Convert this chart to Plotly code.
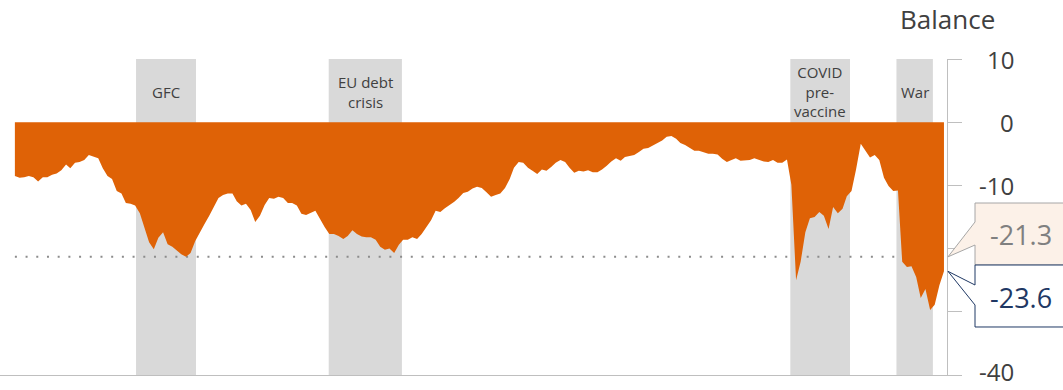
import pandas as pd
import plotly.graph_objects as go

# Monthly balance series (first month: March 2006)
start_month = "2006-03-01"
balance = [
    -8.5, -8.8, -8.7, -8.5, -8.7, -9.4, -8.7, -8.7, -8.3, -8.1,
    -7.6, -6.7, -7.3, -6.4, -6.3, -6.0, -5.2, -5.5, -5.7, -7.3,
    -8.5, -9.0, -10.9, -11.3, -12.8, -12.9, -13.2, -14.4, -16.6, -19.0,
    -20.1, -18.3, -17.4, -19.3, -19.7, -20.4, -20.9, -21.3, -20.7, -18.8,
    -17.4, -16.1, -14.8, -13.4, -12.0, -11.5, -11.3, -11.3, -12.5, -13.2,
    -12.9, -13.9, -15.8, -14.8, -13.1, -12.0, -12.1, -11.8, -12.0, -12.8,
    -12.8, -13.2, -14.5, -14.7, -14.4, -14.0, -15.3, -16.6, -17.7, -17.7,
    -18.0, -18.5, -18.0, -17.1, -17.7, -18.1, -18.2, -18.2, -18.6, -19.7,
    -20.2, -20.0, -20.7, -19.4, -18.6, -18.6, -18.2, -18.5, -17.7, -16.6,
    -15.5, -14.0, -14.2, -13.6, -13.1, -12.6, -12.0, -11.2, -11.0, -10.5,
    -10.2, -10.4, -11.1, -11.8, -11.5, -11.3, -10.4, -9.0, -7.2, -6.3,
    -6.4, -7.2, -7.7, -8.2, -7.5, -7.7, -7.1, -6.4, -6.0, -6.3,
    -7.2, -8.0, -7.7, -7.8, -7.6, -7.9, -7.9, -7.5, -6.9, -6.2,
    -5.7, -6.1, -5.5, -5.4, -5.2, -4.7, -4.2, -4.1, -3.7, -3.3,
    -2.9, -2.3, -2.2, -2.6, -3.3, -3.6, -4.0, -4.5, -4.5, -4.7,
    -5.0, -5.0, -5.1, -5.8, -6.3, -6.0, -5.7, -6.1, -6.1, -6.0,
    -5.7, -6.0, -6.2, -6.3, -6.0, -6.4, -6.4, -5.9, -9.9, -25.0,
    -22.1, -17.4, -15.2, -15.0, -14.2, -14.8, -16.9, -13.4, -14.4, -13.7,
    -11.7, -10.9, -7.5, -3.4, -4.4, -5.6, -5.2, -6.0, -8.8, -10.1,
    -10.9, -10.8, -22.1, -22.9, -22.8, -24.5, -27.8, -26.4, -29.7, -28.9,
    -25.8, -23.6,
]
dates = pd.date_range(start_month, periods=len(balance), freq="MS")

# Shaded episodes
event_names = ["GFC", "EU debt<br>crisis", "COVID<br>pre-<br>vaccine", "War"]
event_starts = ["2008-05-07", "2011-10-28", "2020-02-23", "2022-01-22"]
event_ends = ["2009-06-06", "2013-02-21", "2021-03-22", "2022-09-19"]

# Reference level (GFC low) and latest reading
gfc_low = -21.3
latest = balance[-1]

# Axis settings
y_min, y_max = -40, 10
y_ticks = [10, 0, -10, -20, -30, -40]
y_tick_labels = ["10", "0", "-10", "", "", "-40"]

ORANGE = "#DF6206"
SHADE = "#D9D9D9"
AXIS_GREY = "#BFBFBF"
TEXT = "#404040"
NAVY = "#1F3864"
FONT = "Open Sans"

W, H = 1063, 390
M_L, M_R, M_T, M_B = 0, 116, 59, 15
PW = W - M_L - M_R
PH = H - M_T - M_B


def px_x(px):
    """Pixel column -> paper x."""
    return (px - M_L) / PW


def px_y(py):
    """Pixel row -> paper y."""
    return (H - M_B - py) / PH


def val_y(v):
    """Data value -> paper y."""
    return (v - y_min) / (y_max - y_min)


fig = go.Figure()

# Dotted reference line at the GFC low
fig.add_trace(go.Scatter(
    x=[dates[0], dates[-1]], y=[gfc_low, gfc_low], mode="lines",
    line=dict(color="#8C8C8C", width=2, dash="2px,8.7px"),
    hoverinfo="skip", showlegend=False,
))

# Balance as a filled area down from zero
fig.add_trace(go.Scatter(
    x=dates, y=balance, mode="lines", fill="tozeroy",
    line=dict(width=0, color=ORANGE), fillcolor=ORANGE,
    showlegend=False,
))

shapes = []
annotations = []

for name, s, e in zip(event_names, event_starts, event_ends):
    shapes.append(dict(
        type="rect", xref="x", yref="y", x0=s, x1=e, y0=y_min, y1=y_max,
        fillcolor=SHADE, line=dict(width=0), layer="below",
    ))
    mid = pd.Timestamp(s) + (pd.Timestamp(e) - pd.Timestamp(s)) / 2
    annotations.append(dict(
        x=mid, y=4.8, xref="x", yref="y", text=name, showarrow=False,
        xanchor="center", yanchor="middle",
        font=dict(family=FONT, size=15, color=TEXT),
    ))

# Right-aligned tick labels (the bottom one nudged up to stay inside)
for v, lab in zip(y_ticks, y_tick_labels):
    if lab:
        y_pos = px_y(371) if v == y_min else val_y(v)
        annotations.append(dict(
            x=px_x(1016), y=y_pos, xref="paper", yref="paper", text=lab,
            showarrow=False, xanchor="right", yanchor="middle",
            font=dict(family=FONT, size=24, color=TEXT),
        ))

annotations.append(dict(
    x=px_x(947), y=px_y(19), xref="paper", yref="paper", text="Balance",
    showarrow=False, xanchor="center", yanchor="middle",
    font=dict(family=FONT, size=26, color=TEXT),
))


def callout_path(top, bottom, attach_hi, attach_lo, tip_value):
    left, right, tip_x = 975, 1080, 948
    pts = [
        (px_x(left), px_y(top)), (px_x(right), px_y(top)),
        (px_x(right), px_y(bottom)), (px_x(left), px_y(bottom)),
        (px_x(left), px_y(attach_lo)), (px_x(tip_x), val_y(tip_value)),
        (px_x(left), px_y(attach_hi)),
    ]
    return "M " + " L ".join(f"{x:.5f},{y:.5f}" for x, y in pts) + " Z"


# Callout for the GFC low
shapes.append(dict(
    type="path", xref="paper", yref="paper",
    path=callout_path(203, 265, 222, 245, gfc_low),
    fillcolor="#FCF1E8", line=dict(color="#A6A6A6", width=1), layer="above",
))
# Callout for the latest reading
shapes.append(dict(
    type="path", xref="paper", yref="paper",
    path=callout_path(265, 327, 285, 305, latest),
    fillcolor="#FFFFFF", line=dict(color=NAVY, width=1), layer="above",
))
annotations.append(dict(
    x=px_x(1021), y=px_y(234), xref="paper", yref="paper",
    text=f"{gfc_low:.1f}", showarrow=False, xanchor="center", yanchor="middle",
    font=dict(family=FONT, size=27, color="#808080"),
))
annotations.append(dict(
    x=px_x(1021), y=px_y(297), xref="paper", yref="paper",
    text=f"{latest:.1f}", showarrow=False, xanchor="center", yanchor="middle",
    font=dict(family=FONT, size=27, color=NAVY),
))

fig.update_layout(
    width=W, height=H,
    margin=dict(l=M_L, r=M_R, t=M_T, b=M_B, pad=0),
    paper_bgcolor="white", plot_bgcolor="white",
    shapes=shapes, annotations=annotations,
    showlegend=False,
    xaxis=dict(
        range=["2005-11-23", "2022-12-21"], showgrid=False, zeroline=False,
        showticklabels=False, ticks="", showline=True,
        linecolor=AXIS_GREY, linewidth=1,
    ),
    yaxis=dict(
        range=[y_min, y_max], side="right", tickvals=y_ticks,
        showticklabels=False, ticks="outside", ticklen=14,
        tickcolor=AXIS_GREY, tickwidth=1, showgrid=False, zeroline=False,
        showline=True, linecolor=AXIS_GREY, linewidth=1,
    ),
)

fig.write_html("out.html")
